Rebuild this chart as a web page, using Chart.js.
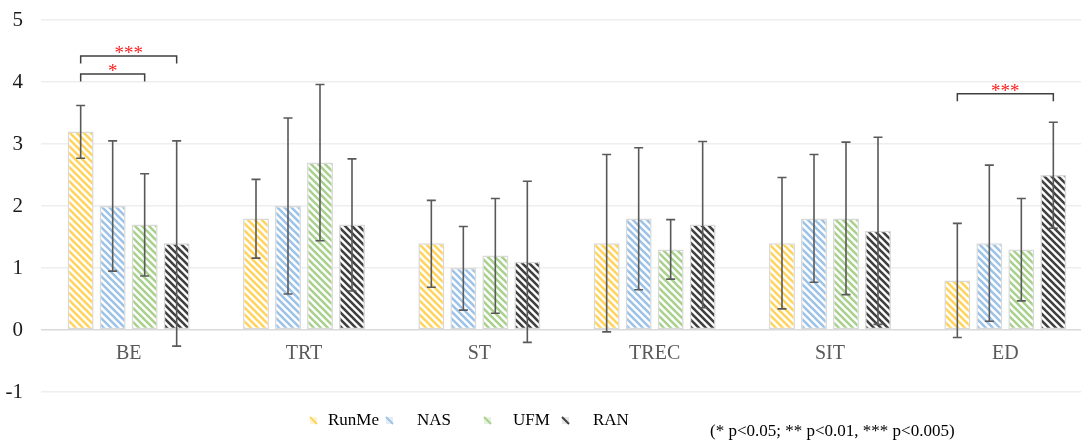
<!DOCTYPE html>
<html>
<head>
<meta charset="utf-8">
<script src="https://cdn.jsdelivr.net/npm/chart.js@4"></script>
<style>
  html, body { margin: 0; padding: 0; background: #fff; overflow: hidden; }
  #wrap { width: 1093px; height: 443px; position: relative; }
</style>
</head>
<body>
<div id="wrap"><canvas id="chart"></canvas></div>
<script>
// Data
const categories = ['BE', 'TRT', 'ST', 'TREC', 'SIT', 'ED'];
const seriesNames = ['RunMe', 'NAS', 'UFM', 'RAN'];

const runme = [3.2, 1.8, 1.4, 1.4, 1.4, 0.8];
const nas   = [2.0, 2.0, 1.0, 1.8, 1.8, 1.4];
const ufm   = [1.7, 2.7, 1.2, 1.3, 1.8, 1.3];
const ran   = [1.4, 1.7, 1.1, 1.7, 1.6, 2.5];

// error bar ends (low / high)
const runmeLo = [2.77, 1.16, 0.69, -0.03, 0.34, -0.12];
const runmeHi = [3.62, 2.43, 2.09, 2.83, 2.46, 1.72];
const nasLo   = [0.95, 0.58, 0.32, 0.65, 0.77, 0.14];
const nasHi   = [3.05, 3.42, 1.67, 2.94, 2.83, 2.66];
const ufmLo   = [0.87, 1.44, 0.27, 0.82, 0.57, 0.47];
const ufmHi   = [2.52, 3.96, 2.12, 1.78, 3.03, 2.12];
const ranLo   = [-0.26, 0.63, -0.2, 0.36, 0.09, 1.64];
const ranHi   = [3.05, 2.76, 2.4, 3.04, 3.11, 3.35];

// significance brackets: category index, from series, to series, y level, label
const sigCat   = [0, 0, 5];
const sigFrom  = [0, 0, 0];
const sigTo    = [2, 3, 3];
const sigLevel = [4.13, 4.42, 3.81];
const sigLabel = ['*', '***', '***'];

const yTicks = [-1, 0, 1, 2, 3, 4, 5];
const footnote = '(* p<0.05; ** p<0.01, *** p<0.005)';

// Styles
const stripeColors = ['#ffd45e', '#9dc3e6', '#a9d18e', '#404040'];
const legendTints = ['#fff3d0', '#e3eef8', '#e8f2e0', '#e6e6e6'];
const serif = "'Liberation Serif', 'Times New Roman', serif";
const legendBoxX = [310, 386, 484, 562];
const legendTextX = [328, 417, 513, 593];

function stripes(color) {
    const s = 7;
    const c = document.createElement('canvas');
    c.width = s; c.height = s;
    const g = c.getContext('2d');
    g.fillStyle = '#fff';
    g.fillRect(0, 0, s, s);
    g.strokeStyle = color;
    g.lineWidth = 2.6;
    g.beginPath();
    g.moveTo(-1, -1); g.lineTo(s + 1, s + 1);
    g.moveTo(-1, s - 1); g.lineTo(1, s + 1);
    g.moveTo(s - 1, -1); g.lineTo(s + 1, 1);
    g.stroke();
    return g.createPattern(c, 'repeat');
}

const values = [runme, nas, ufm, ran];
const lows = [runmeLo, nasLo, ufmLo, ranLo];
const highs = [runmeHi, nasHi, ufmHi, ranHi];

const errorBars = {
    id: 'errorBars',
    afterDatasetsDraw(chart) {
        const ctx = chart.ctx;
        const y = chart.scales.y;
        ctx.save();
        ctx.strokeStyle = '#595959';
        ctx.lineWidth = 1.6;
        chart.data.datasets.forEach((ds, i) => {
            const meta = chart.getDatasetMeta(i);
            meta.data.forEach((bar, j) => {
                const top = y.getPixelForValue(highs[i][j]);
                const bot = y.getPixelForValue(lows[i][j]);
                ctx.beginPath();
                ctx.moveTo(bar.x, top); ctx.lineTo(bar.x, bot);
                ctx.moveTo(bar.x - 4.5, top); ctx.lineTo(bar.x + 4.5, top);
                ctx.moveTo(bar.x - 4.5, bot); ctx.lineTo(bar.x + 4.5, bot);
                ctx.stroke();
            });
        });
        ctx.restore();
    }
};

const sigBrackets = {
    id: 'sigBrackets',
    afterDatasetsDraw(chart) {
        const ctx = chart.ctx;
        const y = chart.scales.y;
        ctx.save();
        sigCat.forEach((c, k) => {
            const x1 = chart.getDatasetMeta(sigFrom[k]).data[c].x;
            const x2 = chart.getDatasetMeta(sigTo[k]).data[c].x;
            const yl = y.getPixelForValue(sigLevel[k]);
            const yt = y.getPixelForValue(sigLevel[k] - 0.12);
            ctx.strokeStyle = '#404040';
            ctx.lineWidth = 1.5;
            ctx.beginPath();
            ctx.moveTo(x1, yt); ctx.lineTo(x1, yl); ctx.lineTo(x2, yl); ctx.lineTo(x2, yt);
            ctx.stroke();
            ctx.fillStyle = '#ff2020';
            ctx.font = '19px ' + serif;
            ctx.textAlign = 'center';
            ctx.textBaseline = 'alphabetic';
            ctx.fillText(sigLabel[k], (x1 + x2) / 2, yl + 3);
        });
        ctx.restore();
    }
};

// legend and footnote, drawn from the dataset labels
const legendAndNote = {
    id: 'legendAndNote',
    afterDraw(chart) {
        const ctx = chart.ctx;
        ctx.save();
        ctx.font = '17px ' + serif;
        ctx.textBaseline = 'middle';
        ctx.textAlign = 'left';
        chart.data.datasets.forEach((ds, i) => {
            const bx = legendBoxX[i], by = 417;
            ctx.fillStyle = legendTints[i];
            ctx.fillRect(bx, by, 7, 7);
            ctx.strokeStyle = stripeColors[i];
            ctx.lineWidth = 2;
            ctx.beginPath();
            ctx.moveTo(bx, by); ctx.lineTo(bx + 7, by + 7);
            ctx.stroke();
            ctx.fillStyle = '#000';
            ctx.fillText(ds.label, legendTextX[i], 421);
        });
        ctx.fillText(footnote, 710, 432);
        ctx.restore();
    }
};

const data = {
    labels: categories,
    datasets: seriesNames.map((name, i) => ({
        label: name,
        data: values[i],
        backgroundColor: stripes(stripeColors[i]),
        borderColor: '#d9d9d9',
        borderWidth: 1.5,
        borderSkipped: false,
        categoryPercentage: 0.73,
        barPercentage: 0.81
    }))
};

const config = {
    type: 'bar',
    data: data,
    options: {
        responsive: true,
        maintainAspectRatio: false,
        animation: false,
        layout: { padding: { top: 20, right: 0, left: 0, bottom: 51 } },
        plugins: {
            legend: { display: false },
            tooltip: { enabled: false }
        },
        scales: {
            x: {
                position: { y: 0 },
                grid: { display: false, drawTicks: false },
                border: { display: false },
                ticks: { color: '#595959', padding: 12, font: { family: serif, size: 20 } }
            },
            y: {
                min: -1,
                max: 5,
                afterFit(scale) {
                    scale.width = 41;
                    scale.paddingTop = 0;
                    scale.paddingBottom = 0;
                },
                afterBuildTicks(scale) { scale.ticks = yTicks.map(v => ({ value: v })); },
                grid: {
                    drawTicks: false,
                    lineWidth: 1.5,
                    color: ctx => ctx.tick && ctx.tick.value === 0 ? '#d9d9d9' : '#eeeeee'
                },
                border: { display: false },
                ticks: { color: '#1a1a1a', padding: 18, font: { family: serif, size: 21 } }
            }
        }
    },
    plugins: [errorBars, sigBrackets, legendAndNote]
};

const chart = new Chart(document.getElementById('chart'), config);
</script>
</body>
</html>
